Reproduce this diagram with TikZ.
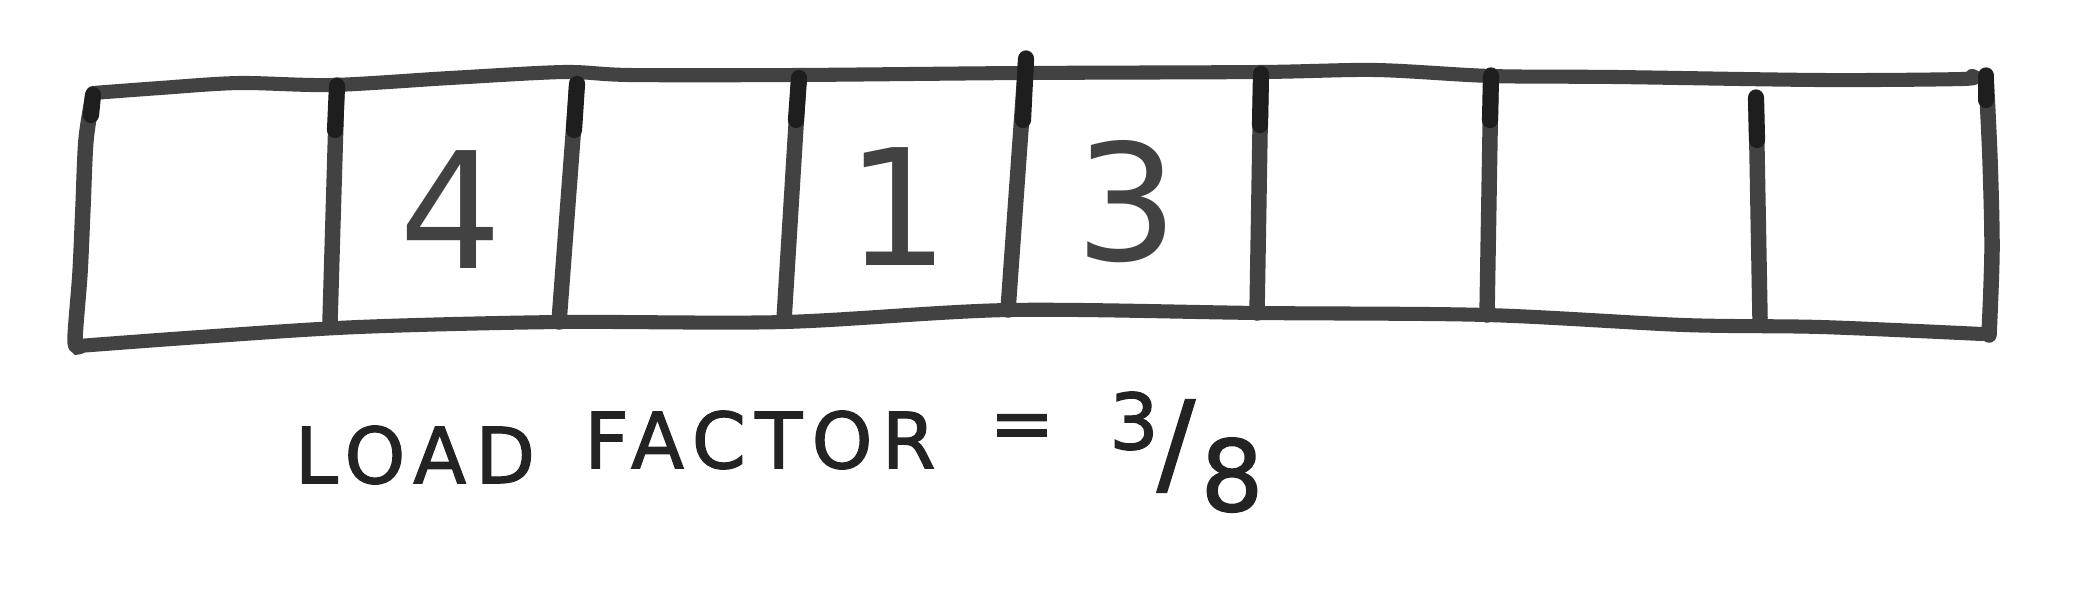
\documentclass[tikz,border=0pt]{standalone}
\usepackage{fontspec}
\setmainfont{DejaVu Sans}
\newfontfamily\handfont[LetterSpace=12,FakeBold=1.6]{DejaVu Sans}
\newfontfamily\digitfont{DejaVu Sans}
\definecolor{ink}{RGB}{66,66,66}
\definecolor{darkink}{RGB}{30,30,30}
\begin{document}
\begin{tikzpicture}[x=0.01cm,y=-0.01cm,
  pen/.style={draw=ink,line width=4pt,line cap=round,line join=round},
  bar/.style={draw=ink,line width=4.4pt,line cap=round},
  dark/.style={draw=darkink,line width=4.6pt,line cap=round},
  digit/.style={text=ink,font=\digitfont\fontsize{46}{50}\selectfont,inner sep=0pt},
  word/.style={text=darkink!85!ink,font=\handfont\fontsize{22}{26}\selectfont,inner sep=0pt}]
\useasboundingbox (0,0) rectangle (2073,593);
% top edge
\draw[pen] plot[smooth,tension=0.5] coordinates {(93,93)(160,88)(239,83)(332,85)(450,78)(564,72)(630,75)(796,75)(1021,73)(1260,72)(1376,70)(1491,76)(1616,77)(1821,80)(1962,79)(1972,76)};
% bottom edge
\draw[pen] plot[smooth,tension=0.5] coordinates {(78,346)(200,337)(358,327)(559,322)(784,322)(1008,310)(1260,313)(1487,315)(1684,325)(1821,327)(1982,334)};
% left and right edges
\draw[bar] plot[smooth,tension=0.5] coordinates {(93,95)(86,140)(83,207)(80,273)(75,340)(80,346)};
\draw[bar] plot[smooth,tension=0.5] coordinates {(1986,75)(1990,160)(1992,250)(1989,335)};
% dividers
\draw[bar] (337,85) -- (330,322);
\draw[bar] (577,83) -- (559,322);
\draw[bar] (799,77) -- (784,320);
\draw[bar] (1026,58) -- (1008,310);
\draw[bar] (1261,73) -- (1257,313);
\draw[bar] (1491,75) -- (1487,315);
\draw[bar] (1756,97) -- (1760,318);
% darker ink at top of strokes
\draw[dark] (337,86) -- (335,130);
\draw[dark] (577,84) -- (574,130);
\draw[dark] (799,78) -- (796,120);
\draw[dark] (1026,59) -- (1023,120);
\draw[dark] (1261,74) -- (1260,125);
\draw[dark] (1491,76) -- (1490,120);
\draw[dark] (1756,98) -- (1757,140);
\draw[dark] (1986,76) -- (1986,100);
\draw[dark] (93,95) -- (91,115);
% values
\node[digit] (v4) at (451,210) {4};
\node[digit] (v1) at (898,207) {1};
\node[digit] (v3) at (1127,202) {3};
% caption
\node[word] (load) at (415,455) {LOAD};
\node[word] (factor) at (760,440) {FACTOR};
\node[word] (eq) at (1022,432) {=};
\node[word] (num) at (1134,421) {3};
\node[word,font=\handfont\fontsize{32}{36}\selectfont] (slash) at (1176,446) {/};
\node[word,font=\handfont\fontsize{28}{32}\selectfont] (den) at (1232,475) {8};
\end{tikzpicture}
\end{document}
